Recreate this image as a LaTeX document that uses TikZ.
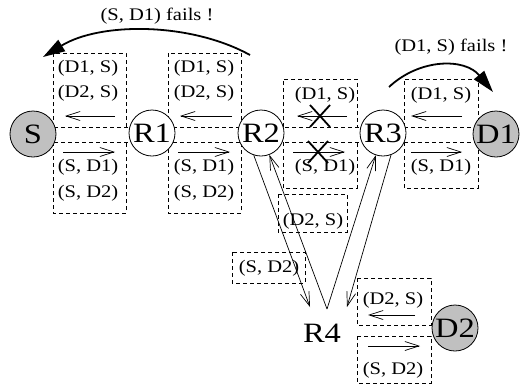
\documentclass[tikz,border=0pt]{standalone}
\usepackage{fontspec}
\setmainfont{Liberation Serif}[FakeStretch=1.16]
\usetikzlibrary{arrows.meta}
\definecolor{nodegray}{RGB}{192,192,192}

\tikzset{
  hop/.style={circle, draw, fill=white, line width=0.8pt, minimum size=46pt,
    inner sep=0pt, font=\fontsize{28}{28}\selectfont},
  endpt/.style={hop, fill=nodegray},
  bigtext/.style={inner sep=0pt, font=\fontsize{28}{28}\selectfont},
  cell/.style={draw, line width=0.7pt, dash pattern=on 4pt off 3pt},
  lbl/.style={inner sep=0pt, font=\fontsize{17.7}{18}\selectfont},
  flow/.style={line width=0.7pt, -{Straight Barb[length=14pt,width=9pt]}},
  fail/.style={line width=1.8pt, -{Triangle[length=22pt,width=13pt]}},
  cut/.style={line width=1.8pt},
}

\begin{document}
\begin{tikzpicture}[x=1pt,y=-1pt]
\useasboundingbox (0,0) rectangle (521,389);

% table cells along the main path (open on the link side)
\foreach \xa/\xb/\ytop/\ybot in {53/126/53/213, 168/241/53/213, 283/357/79/188, 404/478/79/188}{
  \draw[cell] (\xa,127) -- (\xa,\ytop) -- (\xb,\ytop) -- (\xb,127);
  \draw[cell] (\xa,142) -- (\xa,\ybot) -- (\xb,\ybot) -- (\xb,142);
}
\draw[cell] (33,127) -- (496,127);
\draw[cell] (33,142) -- (496,142);

% cells on the branch towards D2
\path[cell] (278,194) rectangle (347,232);
\path[cell] (232,252) rectangle (305,283);
\path[cell] (357,278) rectangle (431,325);
\path[cell] (357,336) rectangle (431,383);

% nodes
\node[endpt] (S)  at (33,134)  {S};
\node[hop]   (R1) at (152,133) {R1};
\node[hop]   (R2) at (261,133) {R2};
\node[hop]   (R3) at (383,133) {R3};
\node[endpt] (D1) at (496,134) {D1};
\node[endpt] (D2) at (455,328) {D2};
\node[bigtext] (R4) at (322,333) {R4};

% entries, S--R1
\node[lbl] at (88,68)  {(D1, S)};
\node[lbl] at (88,93)  {(D2, S)};
\node[lbl] at (88,167) {(S, D1)};
\node[lbl] at (88,193) {(S, D2)};
\draw[flow] (115,116) -- (65,116);
\draw[flow] (63,152) -- (115,152);

% entries, R1--R2
\node[lbl] at (204,68)  {(D1, S)};
\node[lbl] at (204,93)  {(D2, S)};
\node[lbl] at (204,167) {(S, D1)};
\node[lbl] at (204,193) {(S, D2)};
\draw[flow] (232,116) -- (180,116);
\draw[flow] (178,152) -- (230,152);

% entries, R2--R3 (broken link)
\node[lbl] at (325,95)  {(D1, S)};
\node[lbl] at (325,167) {(S, D1)};
\draw[flow] (347,116) -- (297,116);
\draw[flow] (293,152) -- (345,152);
\draw[cut] (310,105) -- (330,127) (330,105) -- (310,127);
\draw[cut] (308,141) -- (328,163) (328,141) -- (308,163);

% entries, R3--D1
\node[lbl] at (441,95)  {(D1, S)};
\node[lbl] at (441,167) {(S, D1)};
\draw[flow] (462,116) -- (411,116);
\draw[flow] (411,152) -- (462,152);

% branch entries
\node[lbl] at (313,221) {(D2, S)};
\node[lbl] at (269,268) {(S, D2)};
\node[lbl] at (393,300) {(D2, S)};
\node[lbl] at (393,370) {(S, D2)};
\draw[flow] (415,315) -- (368,315);
\draw[flow] (368,346) -- (420,346);

% links between R2, R3 and R4
\coordinate (apex) at (327,309);
\coordinate (tipL) at (310,307);
\coordinate (tipR) at (347,307);
\draw[flow] (R2.-108) -- (tipL);
\draw[flow] (apex) -- (R2.-69);
\draw[flow] (apex) -- (R3.-108);
\draw[flow] (R3.-70) -- (tipR);

% failure notifications
\coordinate (f1s) at (250,55);
\coordinate (f1e) at (43,57);
\draw[fail] (f1s) .. controls (190,22) and (100,22) .. (f1e);
\node[lbl] at (157,16) {(S, D1) fails !};

\coordinate (f2s) at (389,87);
\coordinate (f2e) at (493,92);
\draw[fail] (f2s) .. controls (420,58) and (465,58) .. (f2e);
\node[lbl] at (451,47) {(D1, S) fails !};
\end{tikzpicture}
\end{document}
